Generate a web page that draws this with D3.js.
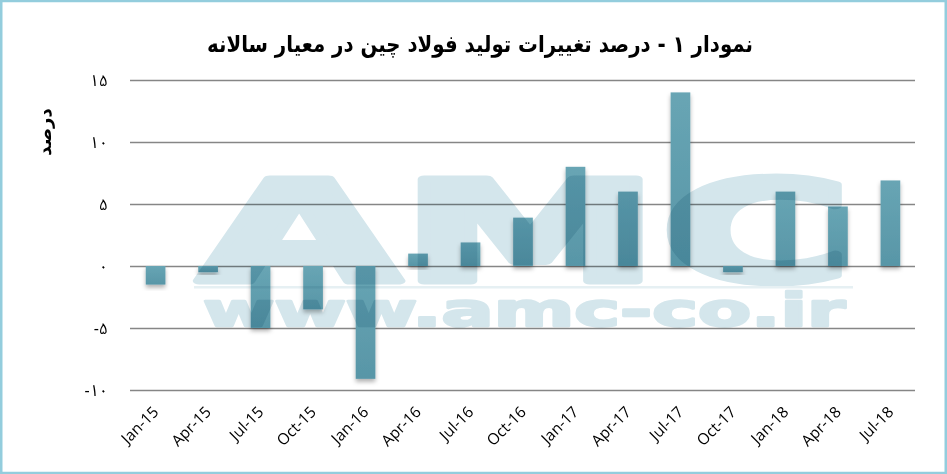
<!DOCTYPE html>
<html><head><meta charset="utf-8">
<script src="https://cdn.jsdelivr.net/npm/d3@7/dist/d3.min.js"></script>
<style>body{margin:0;background:#fff}svg{display:block}</style>
</head><body><svg id="c" width="947" height="474"></svg>
<script>
const categories = ["Jan-15","Apr-15","Jul-15","Oct-15","Jan-16","Apr-16","Jul-16","Oct-16","Jan-17","Apr-17","Jul-17","Oct-17","Jan-18","Apr-18","Jul-18"];
const values = [-1.5,-0.5,-5.0,-3.5,-9.1,1.0,1.9,3.9,8.0,6.0,14.0,-0.5,6.0,4.8,6.9];
const yTicks = [-10,-5,0,5,10,15];
const title = "نمودار ۱ - درصد تغییرات تولید فولاد چین در معیار سالانه";
const yTitle = "درصد";
const toPersian = n => String(n).replace(/\d/g, d => "۰۱۲۳۴۵۶۷۸۹"[d]);

const svg = d3.select("#c");
const W = 947, H = 474;
const m = {l:130, r:31, t:80, b:84};
const x = d3.scaleBand().domain(categories).range([m.l, W - m.r]).paddingInner(0.625).paddingOuter(0.3);
const y = d3.scaleLinear().domain([-10, 15]).range([390, 80]);

const defs = svg.append("defs");
const f = defs.append("filter").attr("id","sh").attr("x","-30%").attr("y","-30%").attr("width","160%").attr("height","160%");
f.append("feDropShadow").attr("dx",0).attr("dy",3).attr("stdDeviation",2.2).attr("flood-color","#000").attr("flood-opacity",0.3);
const g = defs.append("linearGradient").attr("id","bg").attr("x1",0).attr("x2",0).attr("y1",0).attr("y2",1);
g.append("stop").attr("offset","0%").attr("stop-color","#68a5b4");
g.append("stop").attr("offset","100%").attr("stop-color","#5896a7");

svg.append("rect").attr("width",W).attr("height",H).attr("fill","#fff");

// gridlines + y tick labels
const yAxis = d3.axisLeft(y).tickValues(yTicks).tickSize(-(W - m.r - m.l - 1))
  .tickFormat(d => d < 0 ? "-" + toPersian(-d) : toPersian(d));
const ga = svg.append("g").attr("transform",`translate(${m.l},0)`).call(yAxis);
ga.select(".domain").remove();
ga.selectAll(".tick line").attr("stroke","#868686").attr("stroke-width",1.3);
ga.selectAll(".tick text").attr("x",-22).attr("dy","0.35em")
  .attr("font-family","'Noto Sans Arabic','Noto Naskh Arabic','DejaVu Sans'").attr("font-size",16).attr("fill","#000").attr("direction","ltr");

// bars
svg.append("g").selectAll("rect").data(values).join("rect")
  .attr("x",(d,i)=>x(categories[i]))
  .attr("width",x.bandwidth())
  .attr("y",d=>y(Math.max(0,d)))
  .attr("height",d=>Math.abs(y(d)-y(0)))
  .attr("fill","url(#bg)")
  .attr("filter","url(#sh)");

// watermark (multiply over chart)
const wm = svg.append("g").style("mix-blend-mode","multiply").attr("fill","#d4e6ec").attr("stroke","#d4e6ec").attr("stroke-linejoin","round");
wm.append("text").attr("x",198).attr("y",281).attr("font-family","DejaVu Sans").attr("font-weight","bold")
  .attr("stroke-width",7)
  .attr("font-size",140).attr("textLength",654).attr("lengthAdjust","spacingAndGlyphs").text("AMC");
wm.append("rect").attr("x",194).attr("y",286).attr("width",659).attr("height",2.5).attr("fill","#e6f0f3").attr("stroke","none");
wm.append("text").attr("x",203).attr("y",326).attr("font-family","DejaVu Sans").attr("font-weight","bold")
  .attr("stroke-width",2.5)
  .attr("font-size",46).attr("textLength",642).attr("lengthAdjust","spacingAndGlyphs").text("www.amc-co.ir");

// x labels
svg.append("g").selectAll("text").data(categories).join("text")
  .attr("transform",d=>`translate(${x(d)+x.bandwidth()/2+4},${413}) rotate(-45)`)
  .attr("text-anchor","end").attr("font-family","Open Sans").attr("font-size",15.5).attr("fill","#000")
  .text(d=>d);

// title
svg.append("text").attr("x",480).attr("y",52).attr("text-anchor","middle").attr("direction","rtl")
  .attr("font-family","DejaVu Sans").attr("font-weight","bold").attr("font-size",23).attr("fill","#000")
  .attr("textLength",546).attr("lengthAdjust","spacingAndGlyphs").text(title);

// y title
svg.append("text").attr("transform","translate(51,132) rotate(-90)").attr("text-anchor","middle").attr("direction","rtl")
  .attr("font-family","DejaVu Sans").attr("font-weight","bold").attr("font-size",18).attr("fill","#000").text(yTitle);

// border
svg.append("rect").attr("x",1.25).attr("y",1).attr("width",944.5).attr("height",472)
  .attr("fill","none").attr("stroke","#93cddd").attr("stroke-width",2.5);
</script></body></html>
